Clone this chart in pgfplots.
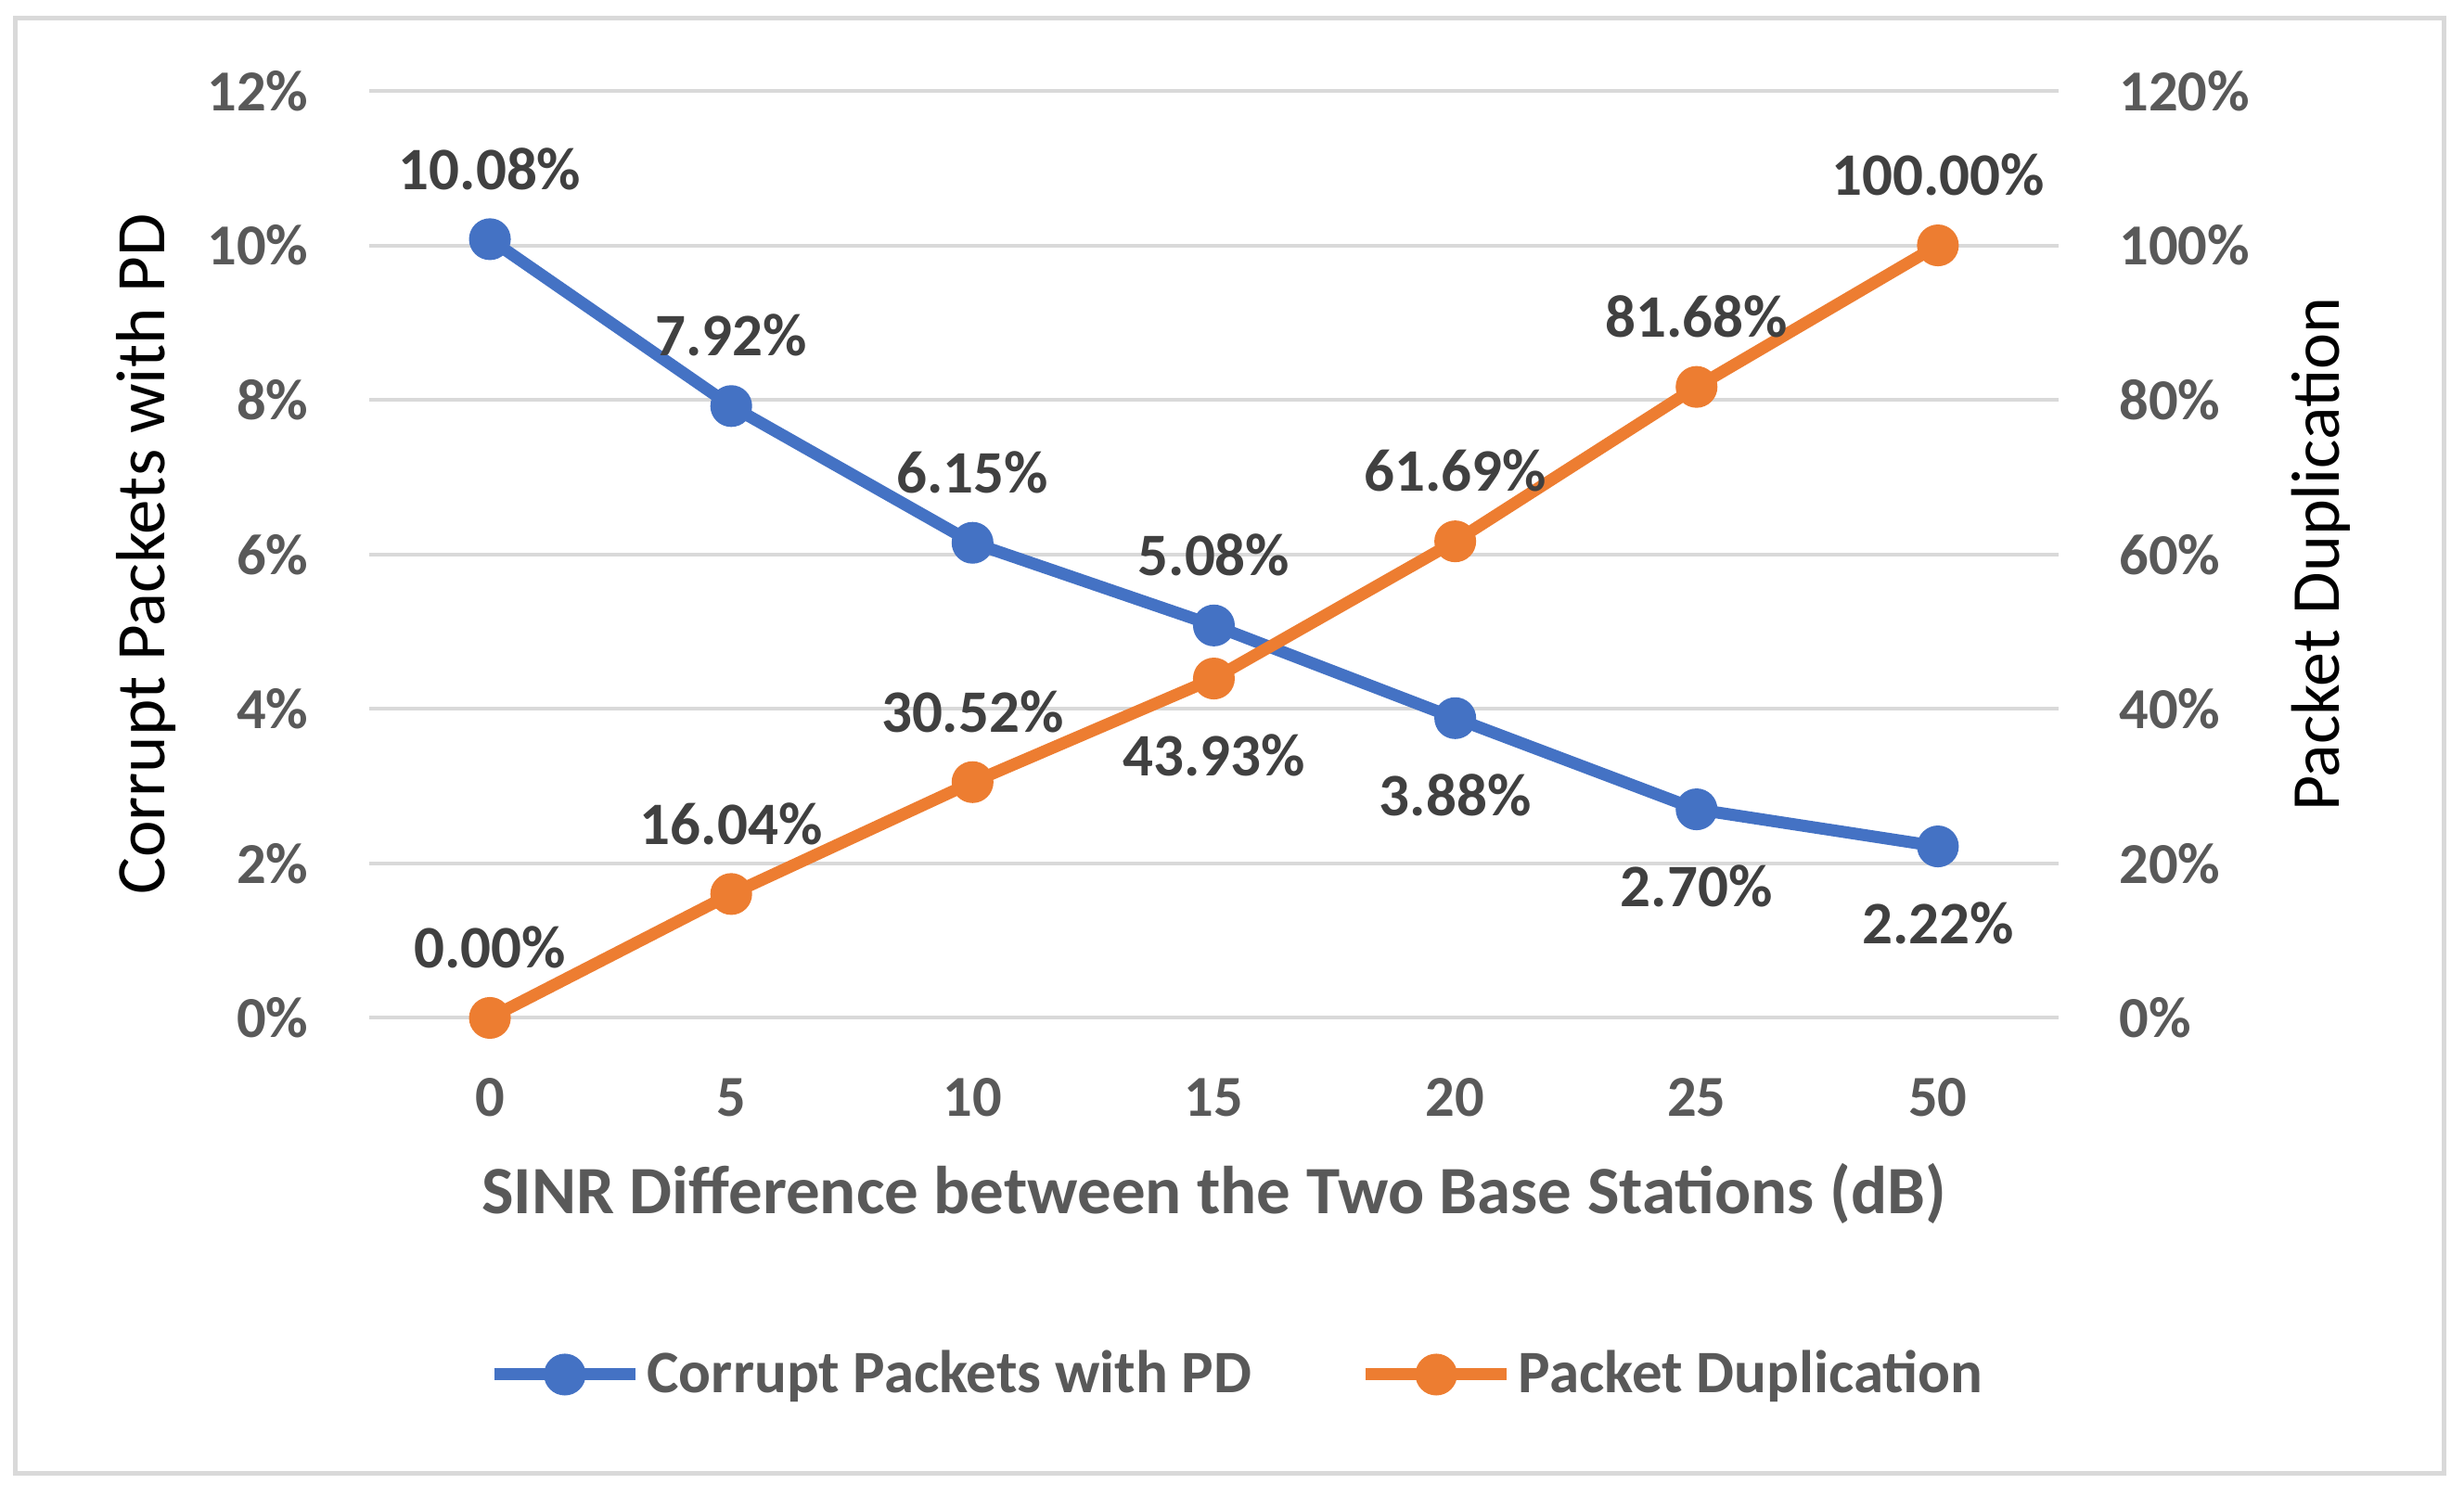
\documentclass[border=0pt]{standalone}
\usepackage{pgfplots}
\usepackage{pgfplotstable}
\pgfplotsset{compat=1.18}
\usepackage{fontspec}
\setmainfont{Carlito}

\definecolor{cblue}{HTML}{4472C4}
\definecolor{corange}{HTML}{ED7D31}
\definecolor{gridgray}{HTML}{D9D9D9}
\definecolor{tickgray}{HTML}{595959}
\definecolor{labelgray}{HTML}{404040}

% x index, SINR difference (dB), value in %
\pgfplotstableread{
idx sinr corrupt
0 0  10.08
1 5  7.92
2 10 6.15
3 15 5.08
4 20 3.88
5 25 2.70
6 50 2.22
}\corrupttable

\pgfplotstableread{
idx sinr dup
0 0  0.00
1 5  16.04
2 10 30.52
3 15 43.93
4 20 61.69
5 25 81.68
6 50 100.00
}\duptable

\pgfplotsset{
  /pgf/number format/assume math mode=true,
  base/.style={
    scale only axis,
    width=364.2pt, height=199.9pt,
    xmin=-0.5, xmax=6.5,
    xtick={0,...,6},
    xticklabels={0,5,10,15,20,25,50},
    axis line style={draw=none},
    major tick length=0pt,
    tick label style={font=\fontsize{12.5}{14}\selectfont\bfseries, text=tickgray, inner sep=0pt},
    xticklabel style={yshift=-12.9pt},
    clip=false,
  },
  line/.style={line width=2.6pt, mark=*, mark size=3.2pt},
  lbl/.style={
    draw=none, mark=none, forget plot,
    point meta=y,
    nodes near coords={\pgfmathprintnumber[fixed,fixed zerofill,precision=2]{\pgfplotspointmeta}\%},
    every node near coord/.append style={anchor=center, yshift=#1,
      font=\fontsize{13}{15}\selectfont\bfseries, text=labelgray},
  },
}

\begin{document}
\begin{tikzpicture}
\useasboundingbox (-79.6pt,-103.3pt) rectangle (451.6pt,219.5pt);
\draw[gridgray, line width=1pt] (-76.2pt,-98.2pt) rectangle (447.2pt,215.5pt);

\begin{axis}[
  base,
  at={(0pt,0pt)}, anchor=south west,
  ymin=0, ymax=12,
  ytick={0,2,...,12},
  yticklabel={\pgfmathprintnumber{\tick}\%},
  yticklabel style={anchor=east, xshift=-12.9pt},
  ymajorgrids=true,
  grid style={line width=0.8pt, draw=gridgray},
  xlabel={SINR Difference between the Two Base Stations (dB)},
  xlabel style={at={(axis description cs:0.5,-0.1896)}, anchor=center,
    font=\fontsize{14.6}{17}\selectfont\bfseries, text=tickgray},
  ylabel={Corrupt Packets with PD},
  ylabel style={at={(axis description cs:-0.1321,0.5)}, anchor=center,
    font=\fontsize{15}{18}\selectfont, text=black},
]
\addplot[line, color=cblue, mark options={fill=cblue}, forget plot] table[x=idx, y=corrupt] {\corrupttable};
\addplot[lbl=15.2pt, skip coords between index={4}{7}] table[x=idx, y=corrupt] {\corrupttable};
\addplot[lbl=-16.6pt, skip coords between index={0}{4}] table[x=idx, y=corrupt] {\corrupttable};
\end{axis}

\begin{axis}[
  base,
  at={(0pt,0pt)}, anchor=south west,
  axis x line=none,
  ymin=0, ymax=120,
  ytick={0,20,...,120},
  yticklabel={\pgfmathprintnumber{\tick}\%},
  yticklabel pos=right,
  yticklabel style={anchor=west, xshift=12.9pt},
  ylabel={Packet Duplication},
  ylabel style={at={(axis description cs:1.1554,0.5)}, anchor=center,
    font=\fontsize{14.8}{17}\selectfont, text=black},
  legend columns=2,
  legend style={at={(axis description cs:0.5144,-0.3847)}, anchor=center,
    draw=none, fill=none,
    font=\fontsize{13}{15}\selectfont\bfseries, text=tickgray,
    nodes={inner sep=1.2pt},
    /tikz/every even column/.append style={column sep=22pt}},
  legend image code/.code={\draw[#1, mark repeat=2, mark phase=2]
    plot coordinates {(0pt,0pt) (15.25pt,0pt) (30.5pt,0pt)};},
]
\addlegendimage{line, color=cblue, mark options={fill=cblue}}
\addlegendentry{Corrupt Packets with PD}
\addplot[line, color=corange, mark options={fill=corange}] table[x=idx, y=dup] {\duptable};
\addlegendentry{Packet Duplication}
\addplot[lbl=15.2pt, skip coords between index={3}{4}] table[x=idx, y=dup] {\duptable};
\addplot[lbl=-16.6pt, skip coords between index={0}{3}, skip coords between index={4}{7}] table[x=idx, y=dup] {\duptable};
\end{axis}
\end{tikzpicture}
\end{document}
